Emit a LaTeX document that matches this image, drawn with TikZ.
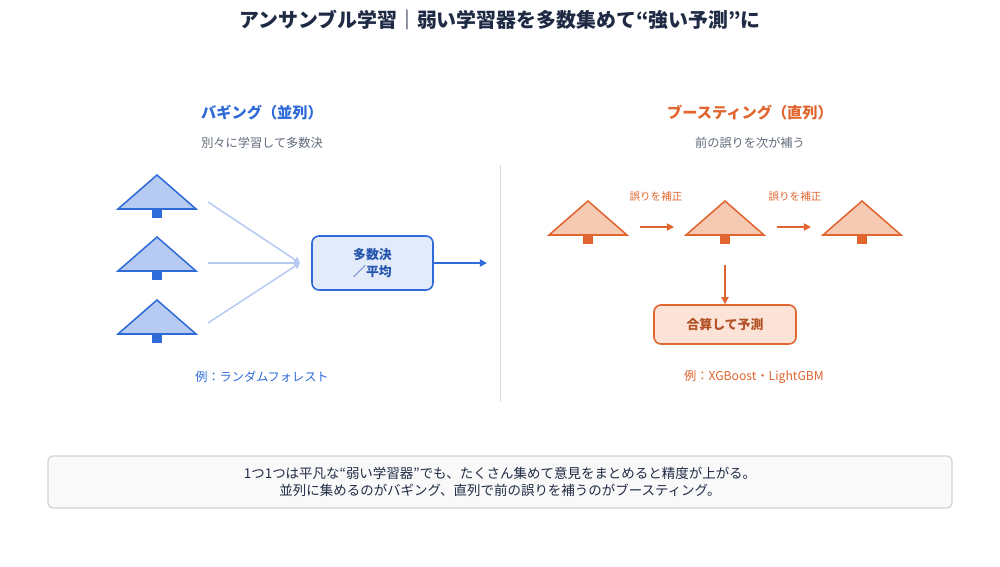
\documentclass[tikz,border=0pt]{standalone}
\usepackage{fontspec}
\setmainfont{Noto Sans CJK JP}
\usetikzlibrary{arrows.meta}
\definecolor{bagblue}{HTML}{2F6BD8}
\definecolor{bagfill}{HTML}{B7CBF2}
\definecolor{boxblue}{HTML}{E3EBFA}
\definecolor{booor}{HTML}{E0652E}
\definecolor{boofill}{HTML}{F6C9B3}
\definecolor{boxor}{HTML}{FBE3D8}
\definecolor{txtgray}{HTML}{5F6B7A}
\definecolor{titlec}{HTML}{1F2A44}
\tikzset{
  head/.style={font=\bfseries\fontsize{13}{15}\selectfont},
  sub/.style={font=\fontsize{10.4}{12}\selectfont, text=txtgray},
  tag/.style={font=\fontsize{9}{11}\selectfont},
  box/.style={draw, line width=1.4pt, rounded corners=6pt, align=center, font=\bfseries\fontsize{11}{14}\selectfont},
  flow/.style={line width=1.4pt, -{Triangle[length=6pt,width=6pt]}}
}
\newcommand{\tree}[4]{% x, y apex, stroke, fill
  \filldraw[draw=#3, fill=#4, line width=1.3pt, line join=miter] (#1,#2) -- (#1+39,#2+34) -- (#1-39,#2+34) -- cycle;
  \fill[#3] (#1-5,#2+34) rectangle (#1+5,#2+43);
}
\begin{document}
\begin{tikzpicture}[x=0.03cm, y=-0.03cm]
  \useasboundingbox (0,0) rectangle (1000,567);
  \node[font=\bfseries\fontsize{17}{19}\selectfont, text=titlec] (title) at (500,20) {アンサンブル学習｜弱い学習器を多数集めて“強い予測”に};
  % bagging
  \node[head, text=bagblue] (baghead) at (262,113) {バギング（並列）};
  \node[sub] (bagsub) at (262,143) {別々に学習して多数決};
  \foreach \y in {175,237,300} {\tree{157}{\y}{bagblue}{bagfill}}
  \coordinate (t1) at (208,202);
  \coordinate (t2) at (208,263);
  \coordinate (t3) at (208,323);
  \coordinate (join) at (300,263);
  \node[box, draw=bagblue, fill=boxblue, text=bagblue!80!black, minimum width=121*0.03cm, minimum height=54*0.03cm] (vote) at (372.5,263) {多数決\\／平均};
  \foreach \t in {t1,t2,t3}
    \draw[bagfill, line width=1.3pt, -{Triangle[length=5pt,width=6pt]}] (\t) -- (join);
  \coordinate (out) at (487,263);
  \draw[flow, bagblue] (vote) -- (out);
  \node[sub, text=bagblue] (bagex) at (262,377) {例：ランダムフォレスト};
  % divider
  \draw[gray!30, line width=0.8pt] (500,165) -- (500,402);
  % boosting
  \node[head, text=booor] (boohead) at (750,113) {ブースティング（直列）};
  \node[sub] (boosub) at (750,143) {前の誤りを次が補う};
  \foreach \x in {588,725,862} {\tree{\x}{201}{booor}{boofill}}
  \coordinate (a1) at (640,227); \coordinate (b1) at (674,227);
  \coordinate (a2) at (777,227); \coordinate (b2) at (811,227);
  \draw[flow, booor] (a1) -- (b1);
  \draw[flow, booor] (a2) -- (b2);
  \node[tag, text=booor] (fix1) at (656,197) {誤りを補正};
  \node[tag, text=booor] (fix2) at (795,197) {誤りを補正};
  \node[box, draw=booor, fill=boxor, text=booor!80!black, minimum width=142*0.03cm, minimum height=39*0.03cm] (sum) at (725,324.5) {合算して予測};
  \coordinate (d1) at (725,265);
  \draw[flow, booor] (d1) -- (sum);
  \node[sub, text=booor] (booex) at (754,377) {例：XGBoost・LightGBM};
  % note
  \node[draw=gray!35, fill=gray!5, line width=1pt, rounded corners=4pt, minimum width=904*0.03cm, minimum height=52*0.03cm, align=center, font=\fontsize{11.5}{15}\selectfont, text=titlec] (note) at (500,482) {1つ1つは平凡な“弱い学習器”でも、たくさん集めて意見をまとめると精度が上がる。\\並列に集めるのがバギング、直列で前の誤りを補うのがブースティング。};
\end{tikzpicture}
\end{document}
